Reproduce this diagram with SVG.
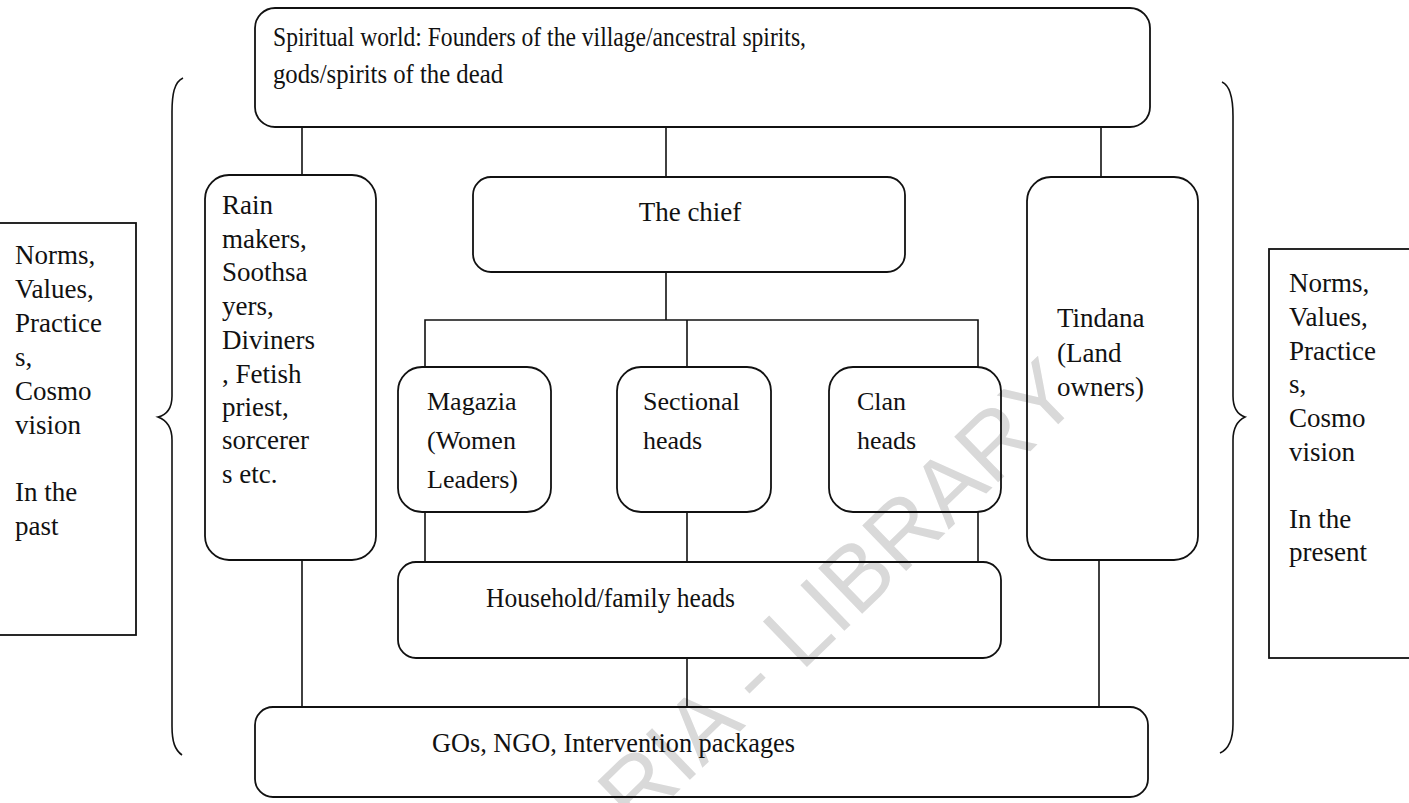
<svg xmlns="http://www.w3.org/2000/svg" width="1409" height="803" viewBox="0 0 1409 803">
<style>
.box{fill:none;stroke:#111;stroke-width:1.8}
.ln{fill:none;stroke:#111;stroke-width:1.6}
.t{font-family:"Liberation Serif","Times New Roman",serif;font-size:27px;fill:#111}
.wm{font-family:"Liberation Sans",Arial,sans-serif;font-size:92px;fill:#d9d9d9}
</style>
<rect width="1409" height="803" fill="#fff"/>
<text class="wm" transform="translate(636,832) rotate(-44)">RIA - LIBRARY</text>
<g id="connectors">
<line class="ln" x1="302" y1="127" x2="302" y2="175"/>
<line class="ln" x1="666" y1="127" x2="666" y2="177"/>
<line class="ln" x1="1101" y1="127" x2="1101" y2="177"/>
<line class="ln" x1="666" y1="272" x2="666" y2="320"/>
<polyline class="ln" points="425,367 425,320 978,320 978,367"/>
<line class="ln" x1="687" y1="320" x2="687" y2="367"/>
<line class="ln" x1="425" y1="512" x2="425" y2="562"/>
<line class="ln" x1="687" y1="512" x2="687" y2="562"/>
<line class="ln" x1="978" y1="512" x2="978" y2="562"/>
<line class="ln" x1="687" y1="658" x2="687" y2="707"/>
<line class="ln" x1="302" y1="560" x2="302" y2="707"/>
<line class="ln" x1="1099" y1="560" x2="1099" y2="707"/>
</g>
<g id="brace-left"><path class="ln" d="M183,78 C174,82 172,95 172,112 L172,396 C172,410 166,415 158,417 C166,420 172,426 172,440 L172,726 C172,742 175,750 182,755"/></g>
<g id="brace-right"><path class="ln" d="M1222,82 C1231,86 1233,100 1233,116 L1233,396 C1233,410 1239,415 1245,417 C1239,420 1233,426 1233,440 L1233,724 C1233,740 1229,749 1220,753"/></g>
<g id="spiritual"><rect class="box" x="255" y="8" width="895" height="119" rx="20"/>
<text class="t" x="273" y="46" textLength="533" lengthAdjust="spacingAndGlyphs">Spiritual world: Founders of the village/ancestral spirits,</text>
<text class="t" x="273" y="83" textLength="230" lengthAdjust="spacingAndGlyphs">gods/spirits of the dead</text></g>
<g id="past"><rect class="box" x="-2" y="223" width="138" height="412"/>
<text class="t"><tspan x="15" y="264">Norms,</tspan><tspan x="15" y="298">Values,</tspan><tspan x="15" y="332">Practice</tspan><tspan x="15" y="366">s,</tspan><tspan x="15" y="400">Cosmo</tspan><tspan x="15" y="434">vision</tspan><tspan x="15" y="501">In the</tspan><tspan x="15" y="535">past</tspan></text></g>
<g id="rainmakers"><rect class="box" x="205" y="175" width="171" height="385" rx="24"/>
<text class="t"><tspan x="222" y="214">Rain</tspan><tspan x="222" y="248">makers,</tspan><tspan x="222" y="281">Soothsa</tspan><tspan x="222" y="315">yers,</tspan><tspan x="222" y="349">Diviners</tspan><tspan x="222" y="383">, Fetish</tspan><tspan x="222" y="416">priest,</tspan><tspan x="222" y="449">sorcerer</tspan><tspan x="222" y="483">s etc.</tspan></text></g>
<g id="chief"><rect class="box" x="473" y="177" width="432" height="95" rx="18"/>
<text class="t" x="690" y="221" text-anchor="middle">The chief</text></g>
<g id="magazia"><rect class="box" x="398" y="367" width="153" height="145" rx="24"/>
<text class="t" style="font-size:26px"><tspan x="427" y="410">Magazia</tspan><tspan x="427" y="449">(Women</tspan><tspan x="427" y="488">Leaders)</tspan></text></g>
<g id="sectional"><rect class="box" x="617" y="367" width="154" height="145" rx="24"/>
<text class="t" style="font-size:26px"><tspan x="643" y="410">Sectional</tspan><tspan x="643" y="449">heads</tspan></text></g>
<g id="clan"><rect class="box" x="829" y="367" width="172" height="145" rx="24"/>
<text class="t" style="font-size:26px"><tspan x="857" y="410">Clan</tspan><tspan x="857" y="449">heads</tspan></text></g>
<g id="tindana"><rect class="box" x="1027" y="177" width="171" height="383" rx="24"/>
<text class="t"><tspan x="1057" y="327">Tindana</tspan><tspan x="1057" y="362">(Land</tspan><tspan x="1057" y="396">owners)</tspan></text></g>
<g id="household"><rect class="box" x="398" y="562" width="603" height="96" rx="18"/>
<text class="t" x="486" y="607" textLength="249" lengthAdjust="spacingAndGlyphs">Household/family heads</text></g>
<g id="present"><rect class="box" x="1269" y="249" width="145" height="409"/>
<text class="t"><tspan x="1289" y="292">Norms,</tspan><tspan x="1289" y="326">Values,</tspan><tspan x="1289" y="360">Practice</tspan><tspan x="1289" y="393">s,</tspan><tspan x="1289" y="427">Cosmo</tspan><tspan x="1289" y="461">vision</tspan><tspan x="1289" y="528">In the</tspan><tspan x="1289" y="561">present</tspan></text></g>
<g id="gos"><rect class="box" x="255" y="707" width="893" height="90" rx="18"/>
<text class="t" x="432" y="752" textLength="363" lengthAdjust="spacingAndGlyphs">GOs, NGO, Intervention packages</text></g>
</svg>
